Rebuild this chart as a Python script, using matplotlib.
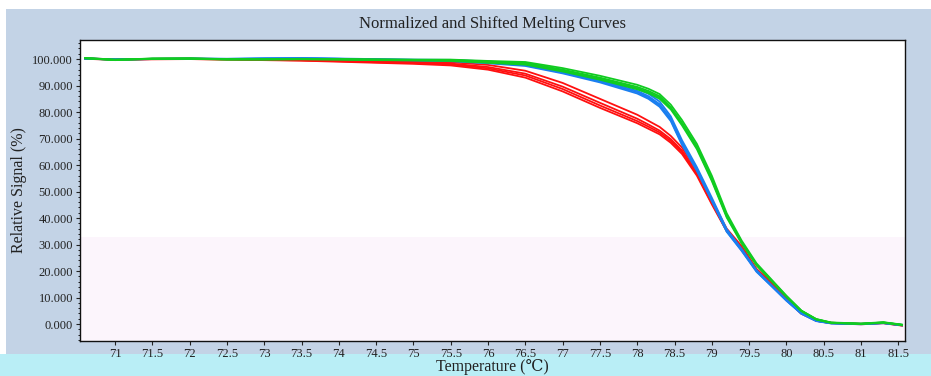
import matplotlib
matplotlib.use("Agg")
import matplotlib.pyplot as plt
from matplotlib.patches import Rectangle
from matplotlib.ticker import MultipleLocator, FormatStrFormatter

plt.rcParams['font.family'] = ['Liberation Serif', 'DejaVu Serif']

# temperature grid (°C)
temps = [70.6, 71.0, 71.5, 72.0, 72.5, 73.0, 73.5, 74.0, 74.5, 75.0, 75.5, 76.0,
         76.5, 77.0, 77.5, 78.0, 78.15, 78.3, 78.45, 78.6, 78.8, 79.0, 79.2, 79.4,
         79.6, 79.8, 80.0, 80.2, 80.4, 80.6, 81.0, 81.3, 81.55]

# red replicates
red = [
    [100.2, 99.8, 100.0, 100.1, 99.9, 99.8, 99.6, 99.3, 99.0, 98.7, 98.3, 97.0, 94.5, 89.6, 83.5, 77.5,
     75.3, 73.0, 69.8, 65.5, 57.0, 46.0, 35.5, 29.0, 20.5, 15.5, 9.5, 4.0, 1.3, 0.4, 0.0, 0.4, -0.5],
    [100.1, 99.7, 99.9, 100.0, 99.8, 99.6, 99.4, 99.0, 98.6, 98.2, 97.6, 96.0, 93.0, 87.8, 81.6, 75.8,
     73.7, 71.6, 68.4, 64.2, 56.0, 45.2, 35.0, 28.6, 20.2, 15.2, 9.3, 3.9, 1.2, 0.3, -0.1, 0.3, -0.6],
    [100.3, 99.9, 100.1, 100.2, 100.0, 99.9, 99.8, 99.5, 99.3, 99.0, 98.8, 97.8, 95.6, 91.0, 85.0, 79.0,
     76.7, 74.4, 71.0, 66.6, 57.8, 46.6, 36.0, 29.4, 20.8, 15.7, 9.7, 4.1, 1.4, 0.5, 0.1, 0.5, -0.4],
    [100.2, 99.8, 100.0, 100.0, 99.9, 99.7, 99.5, 99.2, 98.8, 98.5, 98.0, 96.5, 93.8, 88.7, 82.5, 76.6,
     74.5, 72.3, 69.1, 64.9, 56.5, 45.6, 35.2, 28.8, 20.4, 15.4, 9.4, 4.0, 1.3, 0.4, 0.0, 0.4, -0.5],
]

# blue replicates
blue = [
    [100.2, 99.9, 100.1, 100.2, 100.1, 100.2, 100.3, 100.1, 99.9, 99.7, 99.5, 98.8, 98.0, 95.3, 92.0, 88.0,
     86.0, 83.0, 77.5, 68.5, 58.5, 47.0, 35.3, 28.0, 20.0, 14.5, 9.0, 4.0, 1.2, 0.3, 0.0, 0.4, -0.4],
    [100.1, 99.8, 100.0, 100.1, 100.0, 100.1, 100.2, 100.0, 99.7, 99.5, 99.2, 98.4, 97.4, 94.6, 91.2, 87.0,
     85.0, 82.0, 76.6, 67.6, 57.8, 46.4, 34.8, 27.6, 19.7, 14.3, 8.8, 3.9, 1.1, 0.2, -0.1, 0.3, -0.5],
    [100.3, 99.9, 100.1, 100.2, 100.1, 100.3, 100.4, 100.2, 100.0, 99.8, 99.7, 99.1, 98.4, 95.9, 92.7, 88.8,
     86.9, 84.0, 78.4, 69.4, 59.2, 47.7, 35.8, 28.4, 20.3, 14.7, 9.2, 4.1, 1.3, 0.4, 0.1, 0.5, -0.3],
    [100.2, 99.8, 100.0, 100.1, 100.0, 100.2, 100.3, 100.1, 99.8, 99.6, 99.4, 98.6, 97.7, 94.9, 91.6, 87.5,
     85.5, 82.5, 77.0, 68.0, 58.1, 46.7, 35.0, 27.8, 19.9, 14.4, 8.9, 4.0, 1.2, 0.3, 0.0, 0.4, -0.4],
]

# green replicates
green = [
    [100.4, 99.7, 100.2, 100.2, 99.9, 99.9, 100.0, 99.9, 99.8, 99.7, 99.6, 99.0, 98.5, 96.0, 93.0, 89.5,
     88.0, 86.0, 81.8, 76.0, 67.0, 55.0, 41.0, 31.0, 22.5, 16.5, 10.5, 5.0, 1.8, 0.5, 0.1, 0.6, -0.3],
    [100.3, 99.6, 100.1, 100.1, 99.8, 99.8, 99.9, 99.8, 99.6, 99.5, 99.3, 98.6, 97.9, 95.3, 92.2, 88.6,
     87.1, 85.0, 81.0, 75.0, 66.0, 54.0, 40.2, 30.4, 22.1, 16.2, 10.3, 4.9, 1.7, 0.4, 0.0, 0.5, -0.4],
    [100.4, 99.8, 100.2, 100.3, 100.0, 100.0, 100.1, 100.0, 99.9, 99.8, 99.8, 99.3, 98.9, 96.6, 93.7, 90.3,
     88.8, 86.8, 82.8, 77.0, 68.0, 56.0, 41.8, 31.5, 22.9, 16.8, 10.7, 5.1, 1.9, 0.6, 0.2, 0.7, -0.2],
    [100.3, 99.7, 100.1, 100.2, 99.9, 99.9, 100.0, 99.9, 99.7, 99.6, 99.5, 98.8, 98.2, 95.7, 92.6, 89.0,
     87.5, 85.5, 81.5, 75.5, 66.5, 54.5, 40.6, 30.7, 22.3, 16.4, 10.4, 5.0, 1.8, 0.5, 0.1, 0.6, -0.3],
]

xticks = [71, 71.5, 72, 72.5, 73, 73.5, 74, 74.5, 75, 75.5, 76, 76.5, 77, 77.5,
          78, 78.5, 79, 79.5, 80, 80.5, 81, 81.5]
xticklabels = ['71', '71.5', '72', '72.5', '73', '73.5', '74', '74.5', '75', '75.5', '76',
               '76.5', '77', '77.5', '78', '78.5', '79', '79.5', '80', '80.5', '81', '81.5']

W, H = 931, 376
fig = plt.figure(figsize=(W / 100, H / 100), dpi=100, facecolor='white')

# background panels
fig.patches.append(Rectangle((6 / W, 22 / H), 1 - 6 / W, (H - 9 - 22) / H,
                             transform=fig.transFigure, facecolor='#c3d3e6',
                             edgecolor='none', zorder=-2))
fig.patches.append(Rectangle((0, 0), 1, 22 / H, transform=fig.transFigure,
                             facecolor='#b9eef6', edgecolor='none', zorder=-1))

ax = fig.add_axes([80 / W, (H - 341) / H, 825 / W, 301 / H])
ax.set_facecolor('white')

ax.axhspan(-7, 32.8, color='#fcf5fc', zorder=0, lw=0)

for curves, col in [(red, '#ff1010'), (blue, '#1a7ff0'), (green, '#10cc20')]:
    for ys in curves:
        ax.plot(temps, ys, color=col, lw=1.3, zorder=2)

ax.set_xlim(70.53, 81.59)
ax.set_ylim(-6.4, 107.2)

ax.set_xticks(xticks)
ax.set_xticklabels(xticklabels)
ax.yaxis.set_major_locator(MultipleLocator(10))
ax.yaxis.set_minor_locator(MultipleLocator(2))
ax.yaxis.set_major_formatter(FormatStrFormatter('%.3f'))

ax.tick_params(axis='both', direction='out', labelsize=9, colors='#222222', length=3, pad=2)
ax.tick_params(axis='y', which='minor', length=1.5)
for s in ax.spines.values():
    s.set_color('#111111')
    s.set_linewidth(1.0)

ax.set_title('Normalized and Shifted Melting Curves', fontsize=12, pad=9, color='#222222')
ax.set_xlabel('Temperature (℃)', fontsize=11.5, labelpad=-1, color='#222222')
ax.set_ylabel('Relative Signal (%)', fontsize=11.5, labelpad=4, color='#222222')

fig.savefig('out.png', dpi=100, facecolor=fig.get_facecolor())
